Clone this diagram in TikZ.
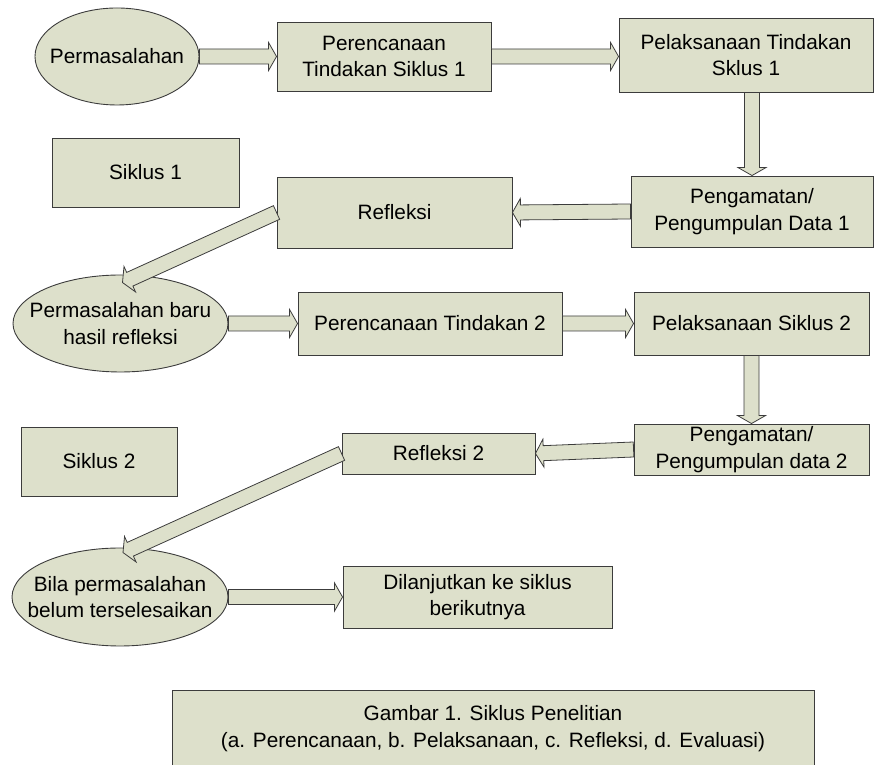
\documentclass[tikz,border=0pt]{standalone}
\usepackage{fontspec}
\setmainfont{Liberation Sans}
\usetikzlibrary{shapes.geometric,calc}
\definecolor{boxfill}{RGB}{221,224,203}
\definecolor{boxline}{RGB}{60,60,60}
\tikzset{
  box/.style={draw=boxline, fill=boxfill, line width=0.9pt, align=center, inner sep=0pt},
  oval/.style={ellipse, draw=boxline, fill=boxfill, line width=0.9pt, align=center, inner ysep=0pt, inner xsep=-30pt},
  barrow/.style={draw=boxline, fill=boxfill, line width=0.8pt, line join=miter}
}
% hollow block arrow from #1 to #2
\newcommand{\blockarrow}[2]{%
  \draw[barrow] let \p1=(#1), \p2=(#2),
    \n1={atan2(\y2-\y1,\x2-\x1)}, \n2={veclen(\x2-\x1,\y2-\y1)-8} in
    ($(\p1)+(\n1+90:7.5)$) -- ($(\p1)+(\n1:\n2)+(\n1+90:7.5)$)
    -- ($(\p1)+(\n1:\n2)+(\n1+90:14)$) -- (\p2)
    -- ($(\p1)+(\n1:\n2)+(\n1-90:14)$) -- ($(\p1)+(\n1:\n2)+(\n1-90:7.5)$)
    -- ($(\p1)+(\n1-90:7.5)$) -- cycle;}
\begin{document}
\begin{tikzpicture}[x=1pt,y=1pt,font=\fontsize{20.8}{26.5}\selectfont]
\useasboundingbox (0,0) rectangle (875,765);
% siklus 1
\node[oval, minimum width=164pt, minimum height=97pt] (perm) at (117,708.5) {Permasalahan};
\node[box, minimum width=214pt, minimum height=69pt] (ren1) at (384,708.5) {Perencanaan\\Tindakan Siklus 1};
\node[box, minimum width=254pt, minimum height=74pt] (lak1) at (746,710) {Pelaksanaan Tindakan\\Sklus 1};
\node[box, minimum width=242pt, minimum height=71pt] (amat1) at (752,553.5) {Pengamatan/\\Pengumpulan Data 1};
\node[box, minimum width=187pt, minimum height=69pt] (sik1) at (145.5,592.5) {Siklus 1};
\node[box, minimum width=235pt, minimum height=71pt] (ref1) at (394.5,552.5) {Refleksi};
% siklus 2
\node[oval, minimum width=215pt, minimum height=97pt] (perm2) at (120.5,441.5) {Permasalahan baru\\hasil refleksi};
\node[box, minimum width=264pt, minimum height=63pt] (ren2) at (430,441.5) {Perencanaan Tindakan 2};
\node[box, minimum width=235pt, minimum height=63pt] (lak2) at (751.5,441.5) {Pelaksanaan Siklus 2};
\node[box, minimum width=235pt, minimum height=51pt] (amat2) at (751.5,315.5) {Pengamatan/\\Pengumpulan data 2};
\node[box, minimum width=156pt, minimum height=69pt] (sik2) at (99,303.5) {Siklus 2};
\node[box, minimum width=193pt, minimum height=41pt] (ref2) at (438.5,311.5) {Refleksi 2};
% lanjut
\node[oval, minimum width=216pt, minimum height=98pt] (perm3) at (120,168) {Bila permasalahan\\belum terselesaikan};
\node[box, minimum width=269pt, minimum height=62pt] (lanj) at (477.5,168) {Dilanjutkan ke siklus\\berikutnya};
\node[box, minimum width=642pt, minimum height=77pt] (gbr) at (493,36.5) {Gambar 1. Siklus Penelitian\\(a. Perencanaan, b. Pelaksanaan, c. Refleksi, d. Evaluasi)};
% arrows
\blockarrow{perm.east}{ren1.west}
\blockarrow{ren1.east}{lak1.west |- ren1.east}
\blockarrow{amat1.north |- lak1.south}{amat1.north}
\blockarrow{amat1.west}{ref1.east}
\blockarrow{ref1.west}{$(perm2.north)+(2,-8)$}
\blockarrow{perm2.east}{ren2.west}
\blockarrow{ren2.east}{lak2.west}
\blockarrow{amat2.north |- lak2.south}{amat2.north}
\blockarrow{amat2.west}{ref2.east}
\blockarrow{ref2.west}{$(perm3.north)+(3,-5)$}
\blockarrow{perm3.east}{lanj.west}
\end{tikzpicture}
\end{document}
